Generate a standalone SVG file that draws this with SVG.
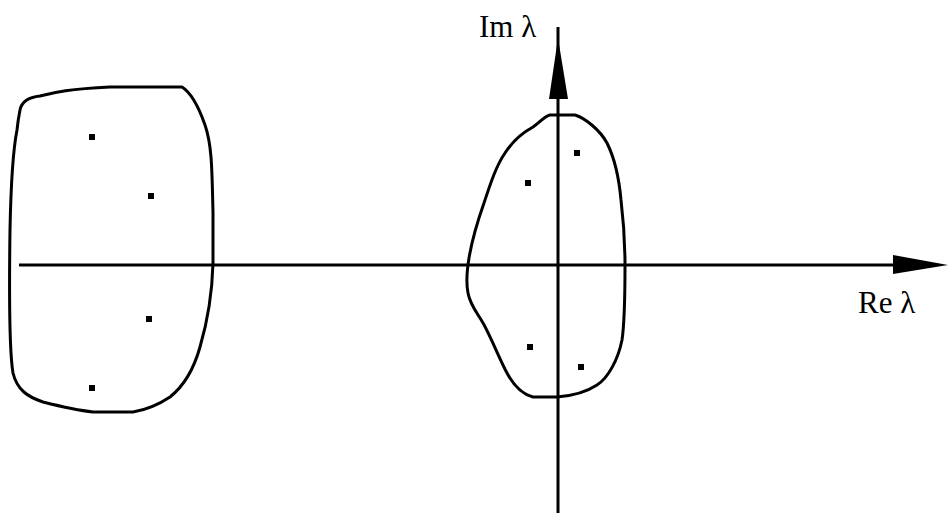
<svg xmlns="http://www.w3.org/2000/svg" width="951" height="513" viewBox="0 0 951 513">
<style>
.ax{stroke:#000;stroke-width:3;fill:none}
.blob{stroke:#000;stroke-width:3;fill:none;stroke-linejoin:round}
.dot{fill:#000}
.lbl{font-family:"Liberation Serif","Times New Roman",serif;font-size:31px;fill:#000}
</style>
<rect width="951" height="513" fill="#fff"/>
<g id="connectors">
<line class="ax" x1="19" y1="265" x2="935" y2="265"/>
<polygon points="893,255 948,265 893,274" fill="#000"/>
<line class="ax" x1="558" y1="27" x2="558" y2="513"/>
<polygon points="549,99 558,38 568,99" fill="#000"/>
</g>
<g id="left-region">
<path class="blob" d="M20,110 C22,100 30,97 40,96 C55,92 70,89 110,87 L182,87 C190,92 197,102 205,125 C212,145 212,170 213,213 L213,263 C212,300 205,330 200,347 C195,365 185,385 170,397 C158,405 145,410 133,412 L93,412 C75,410 55,405 43,402 C28,397 17,390 13,373 C9,350 9,300 10,230 C11,180 13,150 17,130 C18,120 19,115 20,110 Z"/>
<rect class="dot" x="89" y="134" width="6" height="6"/>
<rect class="dot" x="148" y="193" width="6" height="6"/>
<rect class="dot" x="146" y="316" width="6" height="6"/>
<rect class="dot" x="89" y="385" width="6" height="6"/>
</g>
<g id="right-region">
<path class="blob" d="M550,115 L575,115 C585,118 600,130 607,143 C614,157 619,178 621,200 C624,225 625,245 625,265 C625,290 625,320 622,340 C618,360 608,378 597,385 C585,393 570,396 557,397 L533,397 C525,395 515,388 507,373 C500,360 490,335 483,323 C478,314 470,305 468,293 C466,283 467,270 469,258 C472,240 478,220 484,203 C490,185 496,166 505,153 C512,142 522,133 533,127 C540,122 545,116 550,115 Z"/>
<rect class="dot" x="574" y="150" width="6" height="6"/>
<rect class="dot" x="525" y="180" width="6" height="6"/>
<rect class="dot" x="527" y="344" width="6" height="6"/>
<rect class="dot" x="578" y="364" width="6" height="6"/>
</g>
<g id="labels">
<text class="lbl" x="479" y="37">Im λ</text>
<text class="lbl" x="858" y="313">Re λ</text>
</g>
</svg>
